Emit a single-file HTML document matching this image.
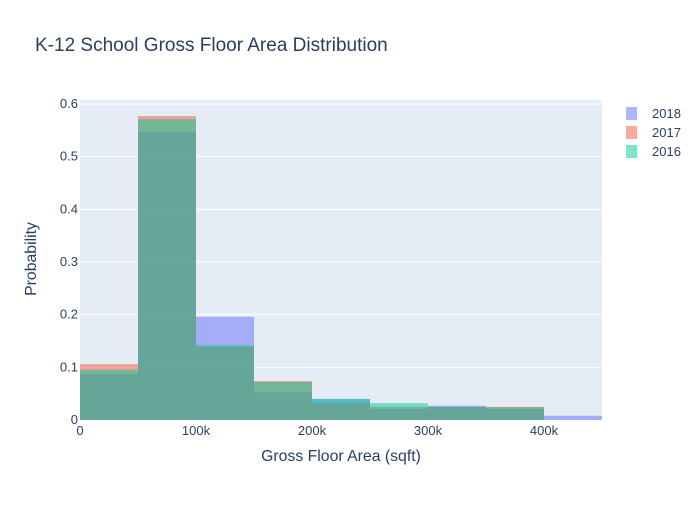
<!DOCTYPE html>
<html><head><meta charset="utf-8"><style>
body{margin:0;background:#fff;font-family:"Liberation Sans",sans-serif;}
svg text{font-family:"Liberation Sans",sans-serif;fill:#2a3f5f;}
</style></head><body>
<svg id="chart" width="700" height="500">
<rect width="700" height="500" fill="#fff"/>
<text x="35" y="51" font-size="19">K-12 School Gross Floor Area Distribution</text>
<rect x="80" y="100" width="522" height="320" fill="#e5ecf6"/>
<g id="grid"></g><g id="bars"></g><g id="axes"></g>
<text x="341" y="461" font-size="15.8" text-anchor="middle">Gross Floor Area (sqft)</text>
<text transform="translate(36,259) rotate(-90)" font-size="15.8" text-anchor="middle">Probability</text>
<g id="legend"></g>
</svg>
<script>
const binStarts=[0,50000,100000,150000,200000,250000,300000,350000,400000];
const seriesNames=["2018","2017","2016"];
const v2018=[0.087,0.547,0.196,0.053,0.040,0.021,0.027,0.021,0.008];
const v2017=[0.106,0.577,0.139,0.074,0.032,0.025,0.025,0.025,0];
const v2016=[0.095,0.571,0.142,0.072,0.040,0.032,0.025,0.024,0];
const yTicks=[0,0.1,0.2,0.3,0.4,0.5,0.6];
const xTicks=[0,100000,200000,300000,400000];
const xTickLabels=["0","100k","200k","300k","400k"];
const binWidth=50000;
const colors=["#636efa","#EF553B","#00cc96"];
const NS="http://www.w3.org/2000/svg";
const X=v=>80+v*(522/450000);
const Y=v=>420-v*526.7;
function mk(tag,attrs,parent){const e=document.createElementNS(NS,tag);for(const k in attrs)e.setAttribute(k,attrs[k]);parent.appendChild(e);return e;}
const grid=document.getElementById('grid'),axes=document.getElementById('axes'),bars=document.getElementById('bars'),legend=document.getElementById('legend');
yTicks.forEach((t,i)=>{
  if(t>0){const l=mk('line',{x1:80,x2:602,y1:Y(t),y2:Y(t),stroke:'#fff','stroke-width':1},grid);
  
  }
  const tx=mk('text',{x:78,y:Y(t)+4,'font-size':13,'text-anchor':'end'},axes);tx.textContent=String(t);
  
  
});
xTicks.forEach((t,i)=>{
  const tx=mk('text',{x:X(t),y:435,'font-size':13,'text-anchor':'middle'},axes);tx.textContent=xTickLabels[i];
  
  
});
[v2018,v2017,v2016].forEach((vals,s)=>{
  vals.forEach((v,i)=>{
    if(v<=0)return;
    const r=mk('rect',{x:X(binStarts[i]),y:Y(v),width:X(binStarts[i]+binWidth)-X(binStarts[i]),height:Y(0)-Y(v),fill:colors[s],'fill-opacity':0.5},bars);
    
    
  });
  const ly=114+s*19;
  const sw=mk('rect',{x:626,y:ly-7,width:11,height:13,fill:colors[s],'fill-opacity':0.5},legend);
  
  
  const lt=mk('text',{x:652,y:ly+4,'font-size':13},legend);lt.textContent=seriesNames[s];
  
  
});
</script>
</body></html>
